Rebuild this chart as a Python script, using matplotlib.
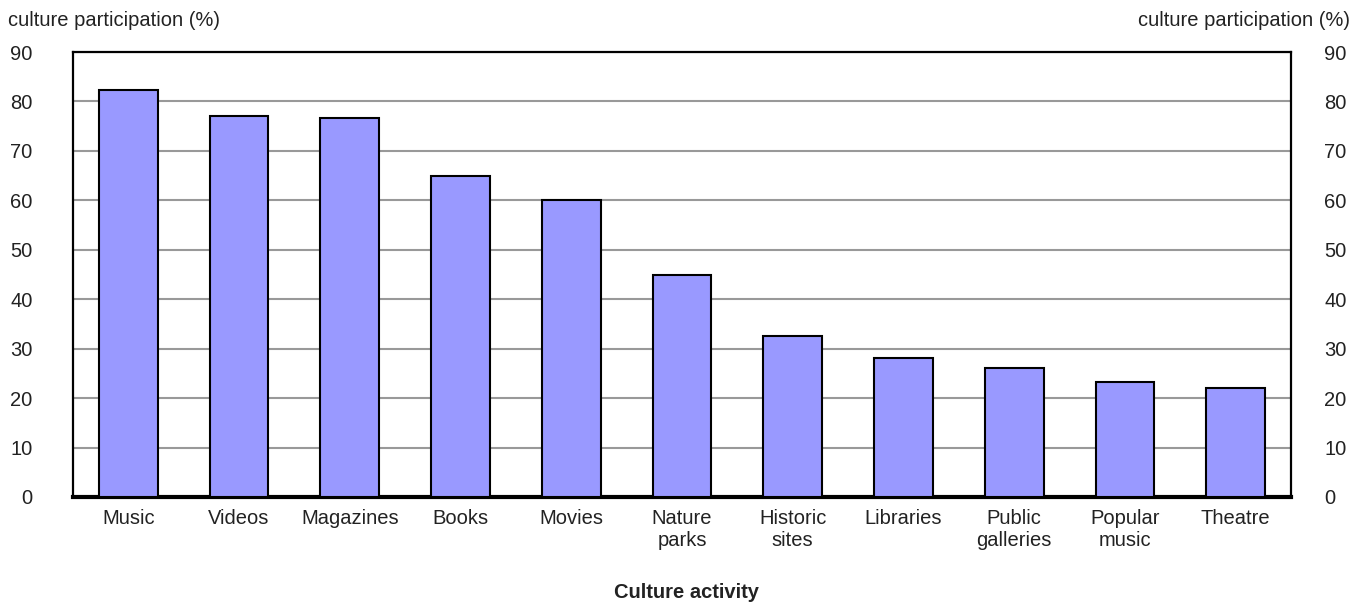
import matplotlib
matplotlib.use("Agg")
import matplotlib.pyplot as plt

categories = ["Music", "Videos", "Magazines", "Books", "Movies", "Nature\nparks",
              "Historic\nsites", "Libraries", "Public\ngalleries", "Popular\nmusic", "Theatre"]
participation = [82.3, 77.1, 76.7, 65.0, 60.1, 45.0, 32.5, 28.1, 26.1, 23.2, 22.0]
y_ticks = [0, 10, 20, 30, 40, 50, 60, 70, 80, 90]
y_title = "culture participation (%)"
x_title = "Culture activity"

plt.rcParams["font.family"] = ["Liberation Sans", "DejaVu Sans"]
FS = 14.5
TXT = "#222222"

fig = plt.figure(figsize=(13.66, 6.05), dpi=100)
ax = fig.add_axes([73 / 1366, 1 - 497 / 605, (1291 - 73) / 1366, (497 - 52) / 605])

x = list(range(len(categories)))
ax.bar(x, participation, width=0.53, color="#9999FF", edgecolor="black", linewidth=1.5, zorder=3)

ax.set_xlim(-0.5, len(categories) - 0.5)
ax.set_ylim(0, 90)
ax.set_yticks(y_ticks)
ax.yaxis.grid(True, color="#999999", linewidth=1.5, zorder=0)
ax.set_axisbelow(True)

for side in ("left", "right", "top"):
    ax.spines[side].set_linewidth(1.6)
ax.spines["bottom"].set_linewidth(3)

ax.set_xticks(x)
ax.set_xticklabels(categories, fontsize=FS, color=TXT, linespacing=1.15)
ax.tick_params(axis="x", length=0, pad=9)
ax.tick_params(axis="y", length=0, labelsize=FS, pad=29, labelcolor=TXT)

ax2 = ax.twinx()
ax2.set_ylim(0, 90)
ax2.set_yticks(y_ticks)
ax2.tick_params(axis="y", length=0, labelsize=FS, pad=24, labelcolor=TXT)
for s in ax2.spines.values():
    s.set_visible(False)

fig.text(8 / 1366, 1 - 20 / 605, y_title, fontsize=FS, color=TXT, ha="left", va="center")
fig.text(1350 / 1366, 1 - 20 / 605, y_title, fontsize=FS, color=TXT, ha="right", va="center")
fig.text(686 / 1366, 1 - 593 / 605, x_title, fontsize=FS, fontweight="bold", color=TXT,
         ha="center", va="center")

fig.savefig("out.png", dpi=100)
